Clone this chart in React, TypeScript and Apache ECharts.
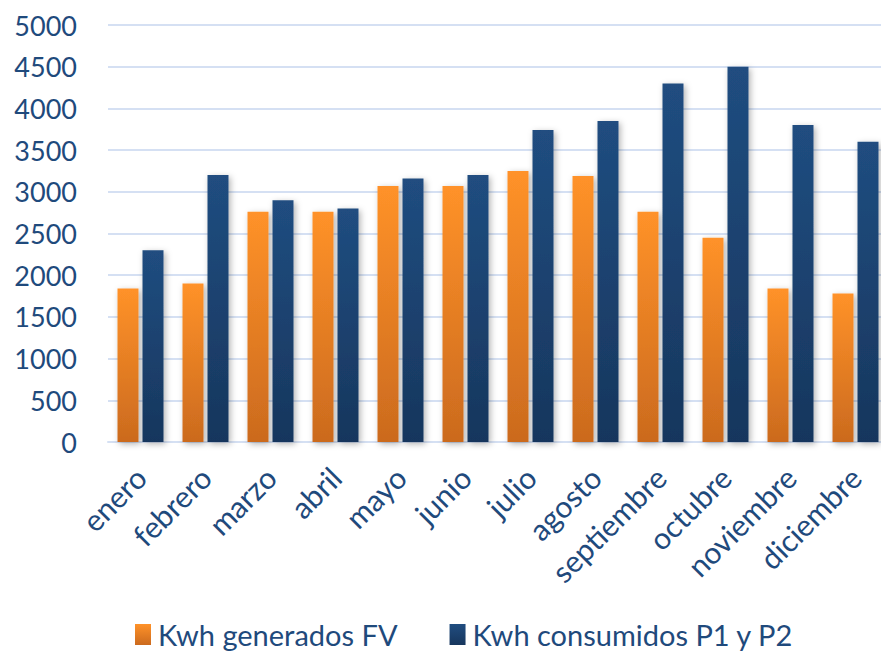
import React, { useEffect, useRef } from "react";
import * as echarts from "echarts";

const months = ["enero", "febrero", "marzo", "abril", "mayo", "junio", "julio", "agosto", "septiembre", "octubre", "noviembre", "diciembre"];
const generados = [1840, 1900, 2760, 2760, 3070, 3070, 3250, 3190, 2760, 2450, 1840, 1780];
const consumidos = [2300, 3200, 2900, 2800, 3160, 3200, 3740, 3850, 4300, 4500, 3800, 3600];
const seriesNames = ["Kwh generados FV", "Kwh consumidos P1 y P2"];

const textColor = "#1f4a7c";
const font = "Lato, 'Open Sans', sans-serif";

export default function App() {
  const ref = useRef<HTMLDivElement>(null);
  useEffect(() => {
    if (!ref.current) return;
    const chart = echarts.init(ref.current, undefined, { renderer: "svg" });
    const orange = new echarts.graphic.LinearGradient(0, 0, 0, 1, [
      { offset: 0, color: "#ff9229" },
      { offset: 1, color: "#cb6a1e" },
    ]);
    const blue = new echarts.graphic.LinearGradient(0, 0, 0, 1, [
      { offset: 0, color: "#204d80" },
      { offset: 1, color: "#17365d" },
    ]);
    const shadow = {
      shadowBlur: 6,
      shadowColor: "rgba(0,0,0,0.3)",
      shadowOffsetX: 2,
      shadowOffsetY: 2,
    };
    chart.setOption({
      animation: false,
      backgroundColor: "#ffffff",
      textStyle: { fontFamily: font },
      grid: { left: 108, right: -7, top: 25, bottom: 212, containLabel: false, outerBoundsMode: "none" },
      legend: {
        bottom: 0,
        left: 130,
        itemWidth: 16,
        itemHeight: 21,
        itemGap: 52,
        icon: "rect",
        textStyle: { color: textColor, fontSize: 29, fontFamily: font, padding: [0, 0, 0, 2] },
        data: seriesNames,
      },
      xAxis: {
        type: "category",
        data: months,
        axisLine: { show: true, lineStyle: { color: "#d5e0f3", width: 2 } },
        axisTick: { show: false },
        axisLabel: {
          interval: 0,
          rotate: 45,
          margin: 30,
          color: textColor,
          fontSize: 30,
          fontFamily: font,
        },
      },
      yAxis: {
        type: "value",
        min: 0,
        max: 5000,
        interval: 500,
        axisLine: { show: false },
        axisTick: { show: false },
        splitLine: { lineStyle: { color: "#d5e0f3", width: 2 } },
        axisLabel: {
          color: textColor,
          fontSize: 27,
          fontFamily: font,
          margin: 31,
          formatter: (v: number) => String(v),
        },
      },
      series: [
        {
          name: seriesNames[0],
          type: "bar",
          data: generados,
          barWidth: 21,
          barGap: "19%",
          itemStyle: { color: orange, ...shadow },
        },
        {
          name: seriesNames[1],
          type: "bar",
          data: consumidos,
          barWidth: 21,
          barGap: "19%",
          itemStyle: { color: blue, ...shadow },
        },
      ],
    });
    return () => chart.dispose();
  }, []);
  return (
    <div
      ref={ref}
      style={{ position: "fixed", left: 0, top: 0, width: 881, height: 654, background: "#fff" }}
    />
  );
}
